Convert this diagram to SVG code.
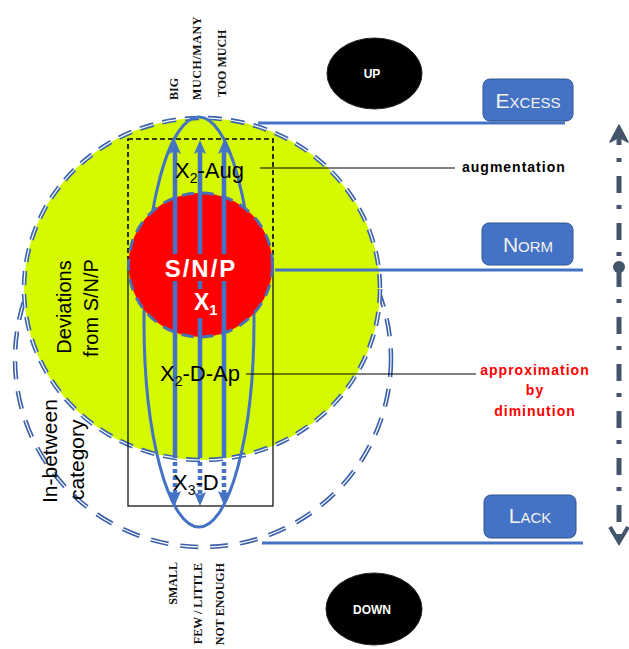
<svg xmlns="http://www.w3.org/2000/svg" width="629" height="649" viewBox="0 0 629 649">
  <style>
    .sans { font-family: "Liberation Sans", "DejaVu Sans", sans-serif; }
    .serif { font-family: "Liberation Serif", "DejaVu Serif", serif; font-weight: bold; font-size: 12px; fill: #111; }
    .label { font-size: 22px; fill: #000; }
    .boxtxt { font-size: 21px; fill: #F2F2F2; font-variant: small-caps; text-anchor: middle; }
    .box { fill: #4472C4; stroke: #2F528F; stroke-width: 1; }
    .level { stroke: #4472C4; stroke-width: 3; fill: none; }
    .leader { stroke: #000; stroke-width: 1; fill: none; }
    .flow { stroke: #4472C4; stroke-width: 4.5; fill: none; }
    .dots { stroke: #4472C4; stroke-width: 4.5; fill: none; stroke-dasharray: 4 3; }
    .oval { fill: #000; stroke: #222; stroke-width: 1; }
    .ovaltxt { font-size: 12px; font-weight: bold; fill: #fff; text-anchor: middle; }
  </style>
  <defs>
    <marker id="head" markerUnits="userSpaceOnUse" markerWidth="16" markerHeight="14" refX="3" refY="6" orient="auto" viewBox="0 0 16 12">
      <path d="M0,0 L14,6 L0,12 L3,6 z" fill="#4472C4"/>
    </marker>
  </defs>

  <!-- wider ring: the in-between zone -->
  <g id="in-between-ring">
    <circle cx="203" cy="359" r="188" fill="none" stroke="#3A5FA8" stroke-width="4.5" stroke-dasharray="18 12"/>
    <circle cx="203" cy="359" r="188" fill="none" stroke="#fff" stroke-width="1.2" stroke-dasharray="18 12"/>
  </g>

  <!-- deviations zone -->
  <g id="deviations">
    <ellipse cx="202" cy="289" rx="178" ry="171" fill="#D4F900"/>
    <ellipse cx="202" cy="289" rx="178" ry="171" fill="none" stroke="#3B64AD" stroke-width="4.5" stroke-dasharray="14 9"/>
    <ellipse cx="202" cy="289" rx="178" ry="171" fill="none" stroke="#fff" stroke-width="1.2" stroke-dasharray="14 9"/>
  </g>

  <!-- frames for the augmentation and diminution bands -->
  <g id="frames">
    <rect x="128" y="139" width="145" height="120" fill="none" stroke="#000" stroke-width="1.6" stroke-dasharray="5 3"/>
    <rect x="128" y="259" width="145" height="247" fill="none" stroke="#000" stroke-width="1.2"/>
  </g>

  <!-- outer loop around the scale arrows -->
  <g id="loop">
    <ellipse cx="199" cy="322" rx="55" ry="205" fill="none" stroke="#4472C4" stroke-width="3"/>
  </g>

  <!-- core: S/N/P -->
  <g id="core">
    <circle cx="200.5" cy="265" r="72" fill="#FF0000" stroke="#4A6FB5" stroke-width="3" stroke-dasharray="12 8"/>
  </g>

  <!-- connectors -->
  <g id="connectors">
    <line class="flow" x1="175" y1="458" x2="175" y2="151" marker-end="url(#head)"/>
    <line class="flow" x1="200" y1="458" x2="200" y2="151" marker-end="url(#head)"/>
    <line class="flow" x1="224" y1="458" x2="224" y2="151" marker-end="url(#head)"/>
    <line class="dots" x1="175" y1="462" x2="175" y2="494" marker-end="url(#head)"/>
    <line class="dots" x1="200" y1="462" x2="200" y2="495" marker-end="url(#head)"/>
    <line class="dots" x1="224" y1="462" x2="224" y2="494" marker-end="url(#head)"/>

    <line class="level" x1="258" y1="123" x2="565" y2="123"/>
    <line class="level" x1="275" y1="270" x2="583" y2="270"/>
    <line class="level" x1="262" y1="543" x2="583" y2="543"/>

    <line class="leader" x1="260" y1="168" x2="455" y2="168"/>
    <line class="leader" x1="246" y1="374" x2="476" y2="374"/>

    <!-- vertical scale axis -->
    <line x1="619" y1="158" x2="619" y2="538" stroke="#44546A" stroke-width="5" stroke-dasharray="4 14 17 12"/>
    <path d="M619,125 L628,142 L619,137 L610,142 z" fill="#44546A" stroke="#44546A" stroke-width="1.5" stroke-linejoin="round"/>
    <line x1="619" y1="136" x2="619" y2="145" stroke="#44546A" stroke-width="5"/>
    <circle cx="619" cy="267" r="6" fill="#44546A"/>
    <polyline points="610,527 619,542 628,527" fill="none" stroke="#44546A" stroke-width="4" stroke-linejoin="miter"/>
  </g>

  <!-- core labels on their own red backing -->
  <g id="core-label">
    <rect x="160" y="254" width="82" height="27" fill="#FF0000"/>
    <rect x="191" y="289" width="30" height="29" fill="#FF0000"/>
    <text class="sans" x="201" y="277" font-size="24" font-weight="bold" fill="#fff" text-anchor="middle" letter-spacing="2">S/N/P</text>
    <text class="sans" x="194" y="310" font-size="23" font-weight="bold" fill="#fff">X<tspan font-size="15" dy="5">1</tspan></text>
  </g>

  <g id="band-labels" class="sans">
    <text class="label" x="175" y="178">X<tspan font-size="14" dy="5">2</tspan><tspan dy="-5">-Aug</tspan></text>
    <text class="label" x="160" y="381">X<tspan font-size="14" dy="5">2</tspan><tspan dy="-5">-D-Ap</tspan></text>
    <text class="label" x="173" y="490">X<tspan font-size="14" dy="5">3</tspan><tspan dy="-5">-D</tspan></text>
  </g>

  <g id="zone-labels" class="sans" font-size="20" fill="#000">
    <text transform="translate(71,307) rotate(-90)" text-anchor="middle">Deviations</text>
    <text transform="translate(98,308) rotate(-90)" text-anchor="middle">from S/N/P</text>
    <text transform="translate(57,503) rotate(-90)" font-size="21">In-between</text>
    <text transform="translate(84,500) rotate(-90)" font-size="21">category</text>
  </g>

  <g id="quantity-upper">
    <text class="serif" transform="translate(178,100) rotate(-90)">BIG</text>
    <text class="serif" transform="translate(201,100) rotate(-90)" letter-spacing="0.6">MUCH/MANY</text>
    <text class="serif" transform="translate(226,97) rotate(-90)">TOO MUCH</text>
  </g>

  <g id="quantity-lower">
    <text class="serif" transform="translate(177,562) rotate(-90)" text-anchor="end">SMALL</text>
    <text class="serif" transform="translate(202,563) rotate(-90)" text-anchor="end">FEW / LITTLE</text>
    <text class="serif" transform="translate(224,563) rotate(-90)" text-anchor="end">NOT ENOUGH</text>
  </g>

  <g id="up" class="sans">
    <ellipse class="oval" cx="374.5" cy="73.5" rx="47.5" ry="35.5"/>
    <text class="ovaltxt" x="372" y="78">UP</text>
  </g>

  <g id="down" class="sans">
    <ellipse class="oval" cx="374" cy="609" rx="48" ry="36"/>
    <text class="ovaltxt" x="372" y="614">DOWN</text>
  </g>

  <g id="excess" class="sans">
    <rect class="box" x="483" y="79" width="90" height="42" rx="7"/>
    <text class="boxtxt" x="528" y="108">Excess</text>
  </g>

  <g id="norm" class="sans">
    <rect class="box" x="482" y="223" width="91" height="42" rx="7"/>
    <text class="boxtxt" x="528" y="252">Norm</text>
  </g>

  <g id="lack" class="sans">
    <rect class="box" x="484" y="495" width="92" height="43" rx="7"/>
    <text class="boxtxt" x="530" y="523">Lack</text>
  </g>

  <g id="notes" class="sans" font-weight="bold" font-size="14">
    <text x="462" y="172" fill="#000" letter-spacing="1">augmentation</text>
    <g fill="#FF0000" text-anchor="middle" letter-spacing="1">
      <text x="535" y="375">approximation</text>
      <text x="535" y="395">by</text>
      <text x="535" y="416">diminution</text>
    </g>
  </g>
</svg>
